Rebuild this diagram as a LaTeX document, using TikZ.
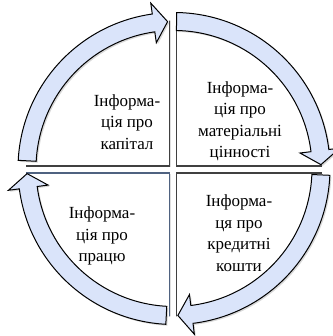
\documentclass[tikz,border=0pt]{standalone}
\usepackage{fontspec}
\setmainfont{Liberation Serif}
\usetikzlibrary{calc,shadows}

\definecolor{ringblue}{RGB}{218,228,250}
\definecolor{quadgray}{RGB}{64,64,64}
\definecolor{quadslate}{RGB}{79,98,128}

\begin{document}
\begin{tikzpicture}[
    quad/.style={draw=quadgray, line width=1.3pt, fill=white,
                 drop shadow={opacity=0.25, shadow xshift=1.5pt, shadow yshift=-1.5pt}},
    ring/.style={draw=black, line width=1pt, fill=ringblue, line join=miter,
                 drop shadow={opacity=0.3, shadow xshift=1.5pt, shadow yshift=-1.5pt}},
    lbl/.style={font=\fontsize{17}{21.5}\selectfont, align=center, inner sep=0pt},
  ]
  \useasboundingbox (0,0) rectangle (332pt,-336pt);
  \coordinate (mid) at (173pt,-169.5pt);  % centre of the gaps
  \coordinate (hub) at (174pt,-168.5pt);  % centre of the arrow ring

  % four quadrants, cut round by the ring
  \begin{scope}
    \clip (hub) circle (148pt);
    \draw[quad] ($(mid)+(-3.5pt,3.5pt)$) rectangle ++(-170pt,170pt);
    \draw[quad] ($(mid)+(3.5pt,3.5pt)$) rectangle ++(170pt,170pt);
    \draw[quad] ($(mid)+(3.5pt,-3.5pt)$) rectangle ++(170pt,-170pt);
    \draw[quad, draw=quadslate] ($(mid)+(-3.5pt,-3.5pt)$) rectangle ++(-170pt,-170pt);
  \end{scope}

  % curved arrows, clockwise
  \begin{scope}[shift={(hub)}]
    \foreach \tl/\tp in {177/92.5, 89/1.5, -2.5/-88.5, -93/-178}{
      \pgfmathsetmacro\hb{\tp+5.5}
      \draw[ring] (\tl:156pt) arc[start angle=\tl, end angle=\hb, radius=156pt]
        -- (\hb:167pt) -- (\tp:147pt) -- (\hb:127pt) -- (\hb:138pt)
        arc[start angle=\hb, end angle=\tl, radius=138pt] -- cycle;
    }
  \end{scope}

  \node[lbl] (capital) at (127pt,-122pt) {Інформа-\\ція про\\капітал};
  \node[lbl] (assets)  at (240pt,-121pt) {Інформа-\\ція про\\матеріальні\\цінності};
  \node[lbl] (labour)  at (102pt,-236pt) {Інформа-\\ція про\\працю};
  \node[lbl] (credit)  at (239pt,-233pt) {Інформа-\\ця про\\кредитні\\кошти};
\end{tikzpicture}
\end{document}
